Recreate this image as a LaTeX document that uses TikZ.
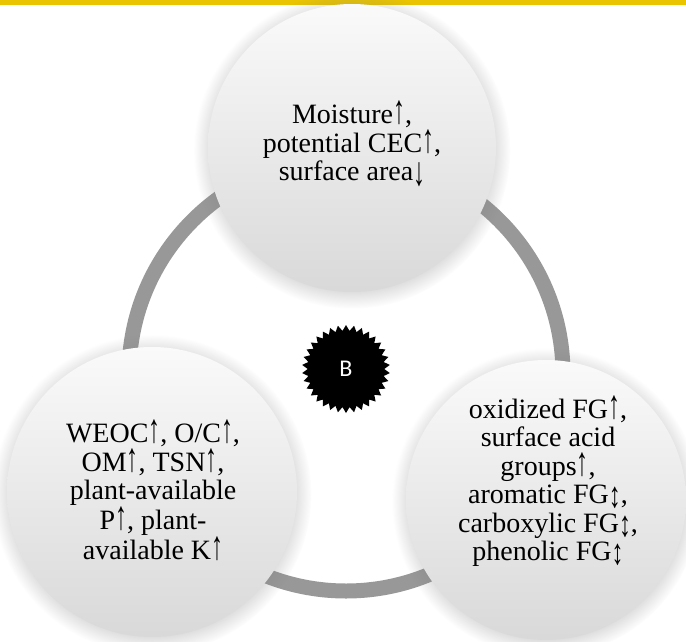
\documentclass[tikz,border=0pt]{standalone}
\usepackage{fontspec}
\setmainfont{Liberation Serif}
\newfontfamily\bfont{Carlito}
\usetikzlibrary{shapes.geometric,shadows}
\definecolor{barcol}{RGB}{234,196,0}
\definecolor{ringcol}{RGB}{152,152,152}
\newcommand\ua{\scalebox{0.85}[1.45]{↑}}
\newcommand\da{\raisebox{-5pt}{\scalebox{0.85}[1.45]{↓}}}
\newcommand\uda{\raisebox{-4pt}{\scalebox{0.85}[1.3]{↕}}}
\tikzset{
  bubble/.style={circle, inner sep=0pt, minimum size=#1, top color=gray!4, bottom color=gray!30,
    circular drop shadow={shadow xshift=0pt, shadow yshift=-2pt, opacity=0.35}},
  txt/.style={align=center, inner sep=0pt, font=\fontsize{28}{28.5}\selectfont},
  starb/.style={star, star points=34, star point ratio=1.15, fill=black, minimum size=88pt,
    inner sep=0pt, text=white, font=\bfont\fontsize{24}{24}\selectfont},
  ringline/.style={draw=ringcol, line width=15pt}
}
\begin{document}
\begin{tikzpicture}[x=1pt,y=-1pt]
\useasboundingbox (0,0) rectangle (686,641);
\fill[barcol] (0,0) rectangle (686,5);
\coordinate (c) at (346,374);
\draw[ringline] (c) circle[radius=217pt];
\node[bubble=288pt] (top) at (352,148) {};
\node[bubble=290pt] (left) at (152,492) {};
\node[bubble=280pt] (right) at (546,500) {};
\node[starb] (b) at (346,369) {B};
\node[txt] (toptext) at (352,144) {Moisture\ua,\\potential CEC\ua,\\surface area\da};
\node[txt] (lefttext) at (153,490) {WEOC\ua, O/C\ua,\\OM\ua, TSN\ua,\\plant-available\\P\ua, plant-\\available K\ua};
\node[txt] (righttext) at (548,481) {oxidized FG\ua,\\surface acid\\groups\ua,\\aromatic FG\uda,\\carboxylic FG\uda,\\phenolic FG\uda};
\end{tikzpicture}
\end{document}
